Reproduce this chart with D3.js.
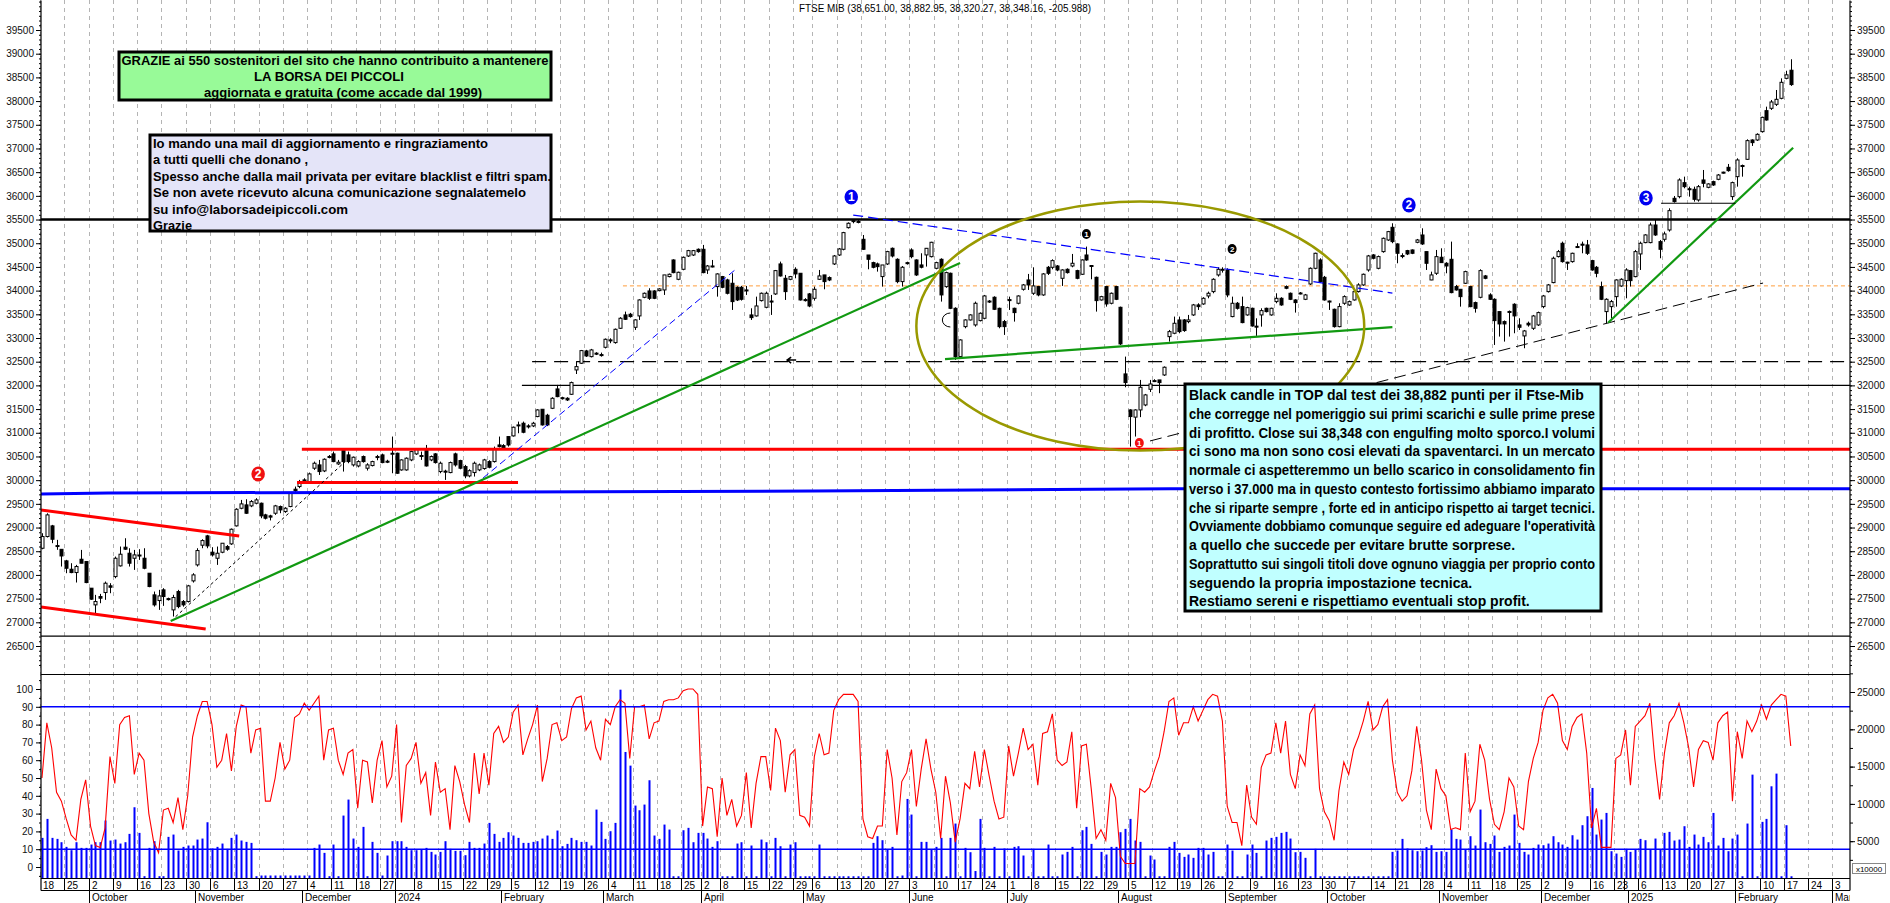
<!DOCTYPE html>
<html>
<head>
<meta charset="utf-8">
<script src="https://cdn.jsdelivr.net/npm/d3@7"></script>
<style>
  body { margin: 0; background: #fff; }
  svg { display: block; font-family: 'Liberation Sans', Arial, sans-serif; }
</style>
</head>
<body>
<div id="chart"></div>
<script>
// canvas and plot frame
var chartWidth = 1890;
var chartHeight = 903;
var leftX = 41;
var rightX = 1850;

// trading calendar (Borsa Italiana closing days inside the period)
var holidays = ['2023-12-25', '2023-12-26', '2024-01-01', '2024-03-29', '2024-04-01', '2024-05-01',
    '2024-12-24', '2024-12-25', '2024-12-26', '2024-12-31', '2025-01-01'];
var monthNames = ['January', 'February', 'March', 'April', 'May', 'June', 'July', 'August',
    'September', 'October', 'November', 'December'];

// daily FTSE MIB candles, 18 Sep 2023 -> 18 Feb 2025
var openP = [
28563,28810,29035,28610,28540,28296,28120,28050,28331,28282,
27720,27368,27544,27628,27770,27965,28191,28585,28458,28352,
28420,28352,28036,27579,27459,27685,27500,27262,27649,27438,
27438,27874,28212,28627,28824,28480,28352,28479,28598,28655,
29035,29407,29478,29457,29513,29513,29267,29246,29302,29443,
29337,29443,29809,29865,30005,29949,30252,30322,30195,30500,
30554,30343,30624,30533,30322,30300,30498,30252,30308,30480,
30533,30400,30568,30568,30216,30216,30427,30554,30520,30624,
30427,30554,30181,30190,30160,30554,30413,30287,30090,30160,
30217,30245,30392,30392,30743,30729,30920,30934,31150,31201,
31145,31145,31342,31496,31370,31517,31925,31740,31728,31812,
32326,32467,32727,32607,32680,32650,32804,32960,32903,33205,
33487,33501,33226,33466,33859,33993,33993,34000,34014,34296,
34647,34239,34450,34731,34752,34872,34872,34436,34520,34085,
34296,34225,34155,34070,34070,34014,33487,33466,33789,33648,
33780,33930,34563,34260,34239,34450,34366,33810,33930,33838,
34239,34331,34275,34563,34752,34872,35329,35470,35460,35083,
34752,34591,34563,34296,34563,34893,34661,34190,34590,34858,
34647,34542,34753,34717,34471,34661,34084,34366,33627,32608,
33240,33381,33276,33367,33416,33780,33860,33627,33346,33810,
33627,33733,34028,34225,33944,34085,33909,34492,34492,34520,
34260,34450,34520,34422,34345,34752,34530,34281,33803,34085,
33733,34085,33648,32242,31482,31330,31482,31587,31918,32101,
32115,32220,33029,33100,33381,33381,33346,33487,33698,33719,
33887,33979,34331,34440,34436,33452,33733,33662,33487,33627,
33250,33487,33627,33487,33768,33838,34085,33944,33803,33950,
33817,34140,34471,34647,34281,33780,33606,33240,33733,33697,
33803,33979,34120,34436,34753,34471,34823,35069,35336,34985,
34740,34844,34858,35020,35174,34823,34225,34366,34704,34577,
34661,34085,34028,34155,34085,33747,33859,34310,33909,33817,
33557,33346,33560,33712,33276,33044,33311,33205,33276,33663,
33979,34169,34718,34999,34600,34612,34930,34980,34964,34633,
34492,34085,33557,33662,33873,34098,34211,34422,34295,34774,
35013,35013,35385,35034,35083,35280,35948,35983,36278,36150,
36138,35913,36335,36180,36300,36349,36500,36602,35984,36405,
36640,36771,37179,37179,37355,37798,37847,37931,38058,38480,
38651];
var highP = [
28880,29300,29056,28740,28540,28318,28247,28212,28528,28282,
27720,27579,27600,27860,27825,28387,28599,28774,28563,28528,
28543,28563,28036,27649,27685,27720,27520,27580,27685,27470,
27790,28036,28563,28753,28845,28585,28599,28669,28630,28980,
29407,29583,29597,29580,29620,29527,29290,29270,29478,29464,
29430,29738,29865,30005,30040,30160,30392,30427,30460,30530,
30603,30427,30673,30603,30498,30420,30520,30357,30410,30533,
30560,30430,30920,30580,30440,30480,30620,30673,30603,30743,
30520,30570,30392,30220,30392,30580,30430,30322,30230,30392,
30350,30450,30420,30708,30920,30760,30920,31131,31236,31236,
31180,31230,31496,31496,31400,31750,32010,31760,31750,32080,
32502,32748,32750,32770,32700,32692,32990,32994,33200,33440,
33557,33530,33396,33817,33960,34050,34010,34050,34331,34360,
34661,34400,34720,34860,34858,34890,34964,34541,34647,34366,
34310,34250,34366,34090,34100,34099,33627,33873,33960,33979,
33909,34436,34612,34331,34310,34492,34366,33840,33950,34085,
34436,34331,34300,34752,34900,35240,35440,35505,35490,35174,
34752,34610,34591,34541,34840,34910,34682,34520,34610,34893,
34660,34788,34900,35030,34610,34682,34400,34380,33648,32973,
33395,33500,33768,33540,33909,33800,33880,33640,33381,33873,
33640,33900,34140,34352,34492,34100,34370,34520,34661,34540,
34450,34470,34774,34440,34660,34929,34540,34296,33890,34099,
33960,34100,33662,32607,31496,31496,32115,31820,32115,32130,
32115,32400,33170,33452,33452,33400,33487,33719,33733,33860,
33979,34260,34492,34492,34471,33873,33760,33873,33660,33640,
33416,33627,33640,33640,33944,33860,34110,33960,33820,33970,
33930,34490,34800,34682,34310,33790,33620,33733,33900,33790,
34000,34155,34360,34753,34770,34740,35120,35260,35421,34999,
34788,34860,34870,35090,35315,34823,34400,34858,34893,34600,
35034,34120,34028,34420,34100,33768,34450,34330,33944,33838,
33557,33370,33580,33733,33416,33170,33346,33487,33557,33909,
34140,34718,34858,35034,34610,34800,34999,35034,35069,34650,
34520,34190,33838,33803,34239,34260,34472,34436,34858,35034,
35190,35435,35491,35069,35245,35737,35997,36370,36405,36194,
36194,36229,36546,36265,36320,36460,36510,36673,36300,36792,
36660,37193,37193,37320,37671,37882,38023,38234,38480,38640,
38882.95];
var lowP = [
28542,28790,28670,28530,28177,28036,28036,27840,28247,27825,
27474,27192,27403,27474,27614,27930,28177,28528,28177,28106,
28317,28120,27740,27332,27262,27347,27460,27122,27297,27330,
27418,27839,28177,28563,28563,28388,28212,28458,28510,28634,
29021,29386,29288,29430,29490,29197,29170,29150,29267,29302,
29310,29429,29738,29830,29940,29920,30216,30110,30170,30460,
30378,30322,30181,30357,30287,30270,30370,30203,30290,30420,
30357,30360,30146,30132,30200,30200,30400,30533,30427,30287,
30400,30350,30146,30005,30146,30287,30230,30040,30060,30076,
30190,30220,30250,30371,30690,30640,30708,30920,30990,30990,
31090,31120,31328,31152,31140,31500,31750,31700,31670,31798,
32240,32453,32600,32590,32640,32607,32780,32890,32880,33190,
33381,33430,33170,33381,33840,33803,33820,33985,33909,34280,
34366,34220,34430,34710,34731,34800,34366,34352,34490,33873,
34050,33920,33592,33780,33790,33909,33381,33452,33770,33627,
33487,33909,34296,33803,34220,34260,33790,33770,33650,33789,
34225,34028,34200,34541,34731,34850,35310,35421,35420,34858,
34450,34470,34401,34085,34540,34700,34155,34085,34550,34682,
34310,34470,34507,34700,34450,33768,34060,33610,32537,32600,
33205,33370,33240,33350,33395,33740,33590,33205,33065,33592,
33346,33710,34000,34014,33909,33880,33890,34330,34450,34410,
34099,34360,34493,34240,34330,34630,34239,33557,33790,33662,
33710,33800,32853,31960,30708,30920,31330,31560,31860,32070,
31835,32200,32924,33080,33100,33130,33311,33466,33592,33700,
33838,33944,34296,34380,33860,33437,33600,33311,33470,33240,
33044,33240,33540,33470,33733,33680,34030,33800,33536,33920,
33800,34120,34450,34170,33789,33592,33220,33226,33700,33680,
33790,33960,34100,34400,34660,34450,34800,35050,35000,34577,
34683,34750,34770,35000,34964,34436,34220,34331,34590,34366,
33944,34000,33662,34140,33650,33536,33838,34240,33803,32853,
33030,32924,33030,33100,33170,32784,33240,33170,33254,33627,
33960,34155,34700,34591,34436,34590,34900,34788,34753,34420,
34282,33800,33311,33416,33662,34080,33838,34085,34282,34436,
35000,34999,35155,34683,35034,35245,35857,35948,36159,35983,
35878,35878,36180,36160,36210,36330,36470,36510,35913,36194,
36405,36757,37053,37160,37334,37587,37812,37896,38037,38460,
38320.27];
var closeP = [
28810,29267,28753,28620,28400,28141,28050,28177,28247,27839,
27488,27438,27509,27825,27740,28352,28437,28543,28247,28423,
28400,28141,27755,27368,27557,27544,27480,27523,27332,27368,
27769,28001,28514,28725,28613,28423,28458,28669,28543,28964,
29386,29499,29302,29548,29583,29246,29197,29220,29457,29372,
29407,29724,29780,29970,29970,30132,30357,30181,30441,30484,
30392,30378,30392,30392,30484,30392,30392,30322,30392,30498,
30371,30392,30568,30146,30427,30463,30603,30652,30512,30300,
30498,30371,30357,30181,30371,30322,30252,30090,30200,30357,
30322,30427,30273,30652,30708,30673,30743,31117,31166,31011,
31131,31201,31482,31166,31166,31728,31763,31728,31693,32059,
32396,32734,32621,32748,32664,32643,32973,32959,33184,33417,
33395,33452,33382,33803,33944,33838,33838,34035,34331,34345,
34380,34387,34703,34844,34844,34823,34380,34520,34510,34352,
34070,33944,33768,33803,33817,34000,33430,33676,33944,33944,
33768,34422,34310,33979,34296,34352,33803,33803,33676,34028,
34310,34190,34225,34731,34879,35224,35421,35477,35456,34872,
34661,34492,34506,34541,34823,34731,34190,34493,34577,34717,
34331,34493,34893,35020,34591,33909,34380,33627,32608,32959,
33381,33487,33733,33522,33888,33768,33606,33240,33240,33803,
33536,33887,34120,34120,34099,33909,34352,34366,34633,34436,
34436,34380,34577,34260,34647,34647,34520,33789,33873,33719,
33944,33817,32875,32059,31342,31482,31960,31799,32030,32101,
32059,32383,33135,33311,33135,33157,33381,33698,33662,33838,
33944,34239,34450,34450,33909,33733,33627,33325,33641,33254,
33240,33578,33557,33627,33838,33698,34050,33817,33747,33944,
33909,34471,34788,34190,33803,33768,33240,33663,33873,33768,
33979,34120,34345,34732,34683,34718,35104,35245,35034,34788,
34732,34774,34788,35069,34985,34577,34331,34717,34591,34520,
33958,34014,33873,34401,33662,33627,34422,34260,33817,33367,
33297,33297,33557,33466,33226,33149,33276,33465,33536,33887,
34120,34683,34823,34612,34591,34788,34915,34964,34788,34436,
34366,33817,33817,33768,34225,34239,34436,34211,34823,34999,
35175,35385,35175,34872,35196,35688,35878,36335,36194,36138,
35927,36194,36265,36251,36230,36440,36490,36532,36279,36757,
36630,37165,37123,37298,37657,37601,37981,38037,38396,38554,
38348.16];

// oscillator (left scale 0-100) and volume (right scale)
var stoch = [
50,81,67,42,37,27,18,15,38,49, 23,12,11,22,62,47,80,84,85,52,
64,60,30,14,8,32,33,25,39,21, 40,73,85,93,93,80,56,60,75,54,
79,91,90,64,77,78,37,37,50,70, 55,60,84,86,92,88,92,96,60,77,
78,60,52,64,66,33,60,59,36,60, 71,45,51,80,25,57,61,70,47,53,
29,59,42,44,21,57,48,35,25,64, 41,64,46,75,79,70,73,87,91,63,
72,80,91,48,61,80,81,71,73,89, 95,96,77,82,67,60,83,80,90,94,
92,61,90,90,91,72,81,82,93,94, 94,95,99,100,100,97,23,45,44,17,
50,29,38,23,29,53,22,47,62,62, 43,78,71,42,63,66,29,28,23,62,
75,63,64,88,94,97,97,97,93,27, 17,16,23,23,66,50,18,48,53,66,
34,55,72,55,42,16,51,36,14,27, 47,44,65,45,66,51,37,27,28,68,
51,64,78,66,69,46,75,76,86,60, 57,59,76,33,68,69,44,16,21,15,
47,39,6,2,2,2,44,42,45,54, 62,76,93,95,74,81,81,90,82,88,
94,97,96,82,34,25,25,12,46,28, 24,56,63,64,81,64,82,52,44,63,
57,86,91,44,31,26,15,43,59,52, 66,73,82,93,77,80,90,94,60,42,
37,40,54,79,60,32,21,55,44,40, 21,22,21,64,31,37,69,60,38,24,
21,31,50,45,23,21,48,61,70,88, 95,97,92,71,66,79,84,86,64,22,
33,11,11,11,61,63,77,46,79,82, 85,92,61,38,64,81,85,92,81,67,
45,66,71,70,60,81,85,87,37,76, 61,82,76,82,91,83,91,94,97,96,
68];
var volume = [
5445,7990,5445,5310,4865,4240,3795,4865,4105,4105,
4550,4865,4865,7770,5090,5220,4685,4865,5980,9550,
6115,310,4105,5000,310,310,5580,5890,3750,4240,
4420,4420,5220,5355,7540,4020,4240,4685,3975,5445,
5890,5090,4910,4775,310,400,400,400,400,400,
400,400,400,400,400,400,4105,4550,3435,310,
4550,310,8435,10580,5355,4240,6920,310,4910,3435,
400,3080,5000,5000,5000,4240,3795,3795,3885,4105,
3570,3215,3570,5000,3975,3705,3705,3125,4910,4105,
4105,4685,7455,5980,4910,5445,6205,5760,5445,4775,
4775,4910,5000,5355,5760,5310,6430,4330,4640,5445,
5135,4910,4910,4420,9240,7585,5310,6340,7455,25310,
16960,15130,9775,9150,9910,13170,5760,5310,7230,6560,
300,300,6470,6790,4865,6115,6115,5355,4240,5000,
300,300,300,4685,4865,300,4420,300,5220,4865,
300,5445,4330,300,4550,4865,300,300,300,300,
4550,300,300,300,300,300,300,300,300,300,
300,4775,5670,5135,3885,4240,300,400,10665,8570,
300,4910,4910,3885,4240,5445,300,5445,7365,300,
4105,3525,1000,7990,4105,300,4240,300,4020,300,
4240,4330,3080,300,3975,300,300,4550,300,300,
3215,3570,4240,300,6470,6920,4640,300,3570,3215,
4240,4240,6205,6650,7990,5090,4910,300,3080,2545,
300,300,4240,4910,3435,2900,3215,2770,4105,4105,
3215,3570,300,300,4550,3750,300,300,3215,4550,
3435,300,5090,5445,5580,6115,6250,5355,3525,3570,
2770,300,3975,300,300,300,300,300,300,300,
300,300,300,300,300,300,300,300,3570,3750,
5310,4020,3795,3660,3750,4200,4465,3570,3660,3570,
6560,5310,5220,3885,5670,4420,9240,4865,4640,5760,
3570,4240,4420,8570,4775,3570,3215,4105,4550,4465,
4685,5670,4865,4550,4240,5800,5220,7145,8350,12140,
5890,7900,8790,3660,3345,2900,3975,3570,3885,5310,
5135,3885,5355,3885,6115,6250,5090,5220,7010,4240,
5890,4550,5580,4865,8790,4420,5445,3660,5355,5890,
300,7365,13925,300,7590,7990,12360,14060,300,7145,
300];

// axis tick values
var priceTicks = d3.range(26500, 39501, 500);
var priceMinorTicks = d3.range(26100, 40101, 100);
var stochTicks = d3.range(0, 101, 10);
var stochMinorTicks = d3.range(-5, 106, 5);
var volumeTicks = [5000, 10000, 15000, 20000, 25000];
var volumeMinorTicks = d3.range(2500, 27501, 2500);
var stochLevels = [90, 10];

// hand drawn annotations: [day index, price]
var channelUpper = [[-0.2, 29369], [40.6, 28820]];
var channelLower = [[-0.2, 27322], [33.7, 26857]];
var longSupport = [[26.5, 27026], [189, 34582]];
var dottedSupport = [[27.5, 27117], [62.4, 30389]];
var blueRise = [[90.8, 30045], [142.9, 34456]];
var blueFall = [[167, 35595], [278, 33949]];
var greenBase = [[185.9, 32556], [278, 33231]];
var dashedRise = [[228.1, 30827], [354.3, 34160]];
var steepSupport = [[322.4, 33322], [360.5, 37016]];
var shortTop = [[333.3, 35844], [348.6, 35844]];
var topLevel = [[-0.2, 35500], [372.2, 35500]];
var thinLevels = [[[98.8, 32000], [372.2, 32000]], [[-0.2, 26710], [372.2, 26710]]];
var dashedLevel = [[100.9, 32500], [372.2, 32500]];
var orangeLevel = [[119.6, 34100], [372.2, 34100]];
var redLevels = [[[53.5, 30650], [372.2, 30650]], [[52.5, 29950], [98, 29950]]];
var blueSteps = [[-0.2, 29707], [13.6, 29728], [158.7, 29770], [232.3, 29819], [372.2, 29819]];
var ellipseCenter = [226.1, 33253];
var ellipseRadius = [46.1, 2628];
var halfCircle = [187, 33380];
var arrowPoint = [153.4, 32535];
var markers = [
    { i: 166.6, p: 35975, label: '1', kind: 'blue' },
    { i: 281.4, p: 35806, label: '2', kind: 'blue' },
    { i: 330.2, p: 35954, label: '3', kind: 'blue' },
    { i: 44.5, p: 30129, label: '2', kind: 'red' },
    { i: 215, p: 35194, label: '1', kind: 'small' },
    { i: 245, p: 34878, label: '2', kind: 'small' },
    { i: 225.9, p: 30783, label: '1', kind: 'smallred' }
];

// texts
var titleText = 'FTSE MIB (38,651.00, 38,882.95, 38,320.27, 38,348.16, -205.988)';
var thanksLines = ['GRAZIE ai 550 sostenitori del sito che hanno contribuito a mantenere',
    'LA BORSA DEI PICCOLI', 'aggiornata e gratuita (come accade dal 1999)'];
var mailLines = ['Io mando una mail di aggiornamento e ringraziamento', 'a tutti quelli che donano ,',
    'Spesso anche dalla mail privata per evitare blacklist e filtri spam.',
    'Se non avete ricevuto alcuna comunicazione segnalatemelo',
    'su info@laborsadeipiccoli.com', 'Grazie'];
var commentLines = ['Black candle in TOP dal test dei 38,882 punti per il Ftse-Mib',
    'che corregge nel pomeriggio sui primi scarichi e sulle prime prese',
    'di profitto. Close sui 38,348 con engulfing molto sporco.I volumi',
    'ci sono ma non sono cosi elevati da spaventarci. In un mercato',
    'normale ci aspetteremmo un bello scarico in consolidamento fin',
    'verso i 37.000 ma in questo contesto fortissimo abbiamo imparato',
    'che si riparte sempre , forte ed in anticipo rispetto ai target tecnici.',
    "Ovviamente dobbiamo comunque seguire ed adeguare l'operatività",
    'a quello che succede per evitare brutte sorprese.',
    'Soprattutto sui singoli titoli dove ognuno viaggia per proprio conto',
    'seguendo la propria impostazione tecnica.',
    'Restiamo sereni e rispettiamo eventuali stop profit.'];

var xScale = d3.scaleLinear().domain([-0.2, 372.2]).range([leftX, rightX]);
var yPrice = d3.scaleLinear().domain([26500, 39500]).range([646, 30]);
var yStoch = d3.scaleLinear().domain([0, 100]).range([867, 689]);
var yVol = d3.scaleLinear().domain([0, 25000]).range([878.5, 692]);
var tradingDays = buildTradingDays(373);

document.addEventListener('DOMContentLoaded', function () {
    var svg = d3.select('#chart')
        .append('svg')
        .attr('width', chartWidth)
        .attr('height', chartHeight);

    svg.append('rect').attr('width', chartWidth).attr('height', chartHeight).attr('fill', '#fff');
    svg.append('clipPath').attr('id', 'priceClip')
        .append('rect').attr('x', leftX).attr('y', 0).attr('width', rightX - leftX).attr('height', 674);
    svg.append('clipPath').attr('id', 'axisClip')
        .append('rect').attr('x', leftX).attr('y', 870).attr('width', rightX - leftX).attr('height', 40);

    drawGrid(svg);
    var price = svg.append('g').attr('clip-path', 'url(#priceClip)');
    drawLevels(price);
    drawCandles(price);
    drawTrendLines(price);
    drawMarkers(price);
    drawBoxes(svg);
    drawLowerPanel(svg);
    drawAxes(svg);
    drawDateAxis(svg);

    svg.append('text')
        .attr('x', 799)
        .attr('y', 12)
        .attr('font-size', '10px')
        .attr('textLength', 292)
        .attr('lengthAdjust', 'spacingAndGlyphs')
        .text(titleText);
});

function buildTradingDays(count) {
    var fmt = d3.timeFormat('%Y-%m-%d');
    var days = [];
    var d = new Date(2023, 8, 18);
    while (days.length < count) {
        var wd = d.getDay();
        if (wd !== 0 && wd !== 6 && holidays.indexOf(fmt(d)) < 0) {
            days.push(new Date(d));
        }
        d.setDate(d.getDate() + 1);
    }
    return days;
}

function isWeekStart(i) {
    if (i === 0) return true;
    var a = tradingDays[i - 1], b = tradingDays[i];
    return b.getDay() <= a.getDay() || (b - a) > 4 * 86400000;
}

function px(i) {
    return Math.round(xScale(i));
}

function drawGrid(svg) {
    var weeks = d3.range(tradingDays.length).filter(isWeekStart);
    svg.append('g').selectAll('line')
        .data(weeks)
        .enter()
        .append('line')
        .attr('x1', function (i) { return px(i) - 1.5; })
        .attr('x2', function (i) { return px(i) - 1.5; })
        .attr('y1', 0)
        .attr('y2', 878)
        .attr('stroke', '#b4b4b4')
        .attr('stroke-dasharray', '4,4');
}

function segment(g, pts, color, width, dash) {
    var line = d3.line()
        .x(function (d) { return xScale(d[0]); })
        .y(function (d) { return yPrice(d[1]); });
    g.append('path')
        .attr('d', line(pts))
        .attr('fill', 'none')
        .attr('stroke', color)
        .attr('stroke-width', width)
        .attr('stroke-dasharray', dash || null);
}

function drawLevels(g) {
    segment(g, orangeLevel, '#ff9d3c', 1, '4,3');
    thinLevels.forEach(function (pts) { segment(g, pts, '#000', 1.2); });
    segment(g, dashedLevel, '#000', 1.2, '14,8');
}

function drawCandles(g) {
    var idx = d3.range(closeP.length);
    g.append('g').selectAll('line')
        .data(idx)
        .enter()
        .append('line')
        .attr('x1', function (i) { return px(i) + 0.5; })
        .attr('x2', function (i) { return px(i) + 0.5; })
        .attr('y1', function (i) { return yPrice(highP[i]); })
        .attr('y2', function (i) { return yPrice(lowP[i]); })
        .attr('stroke', '#000')
        .attr('stroke-width', 1);

    g.append('g').selectAll('rect')
        .data(idx)
        .enter()
        .append('rect')
        .attr('x', function (i) { return px(i) - 1; })
        .attr('width', 3)
        .attr('y', function (i) { return yPrice(Math.max(openP[i], closeP[i])); })
        .attr('height', function (i) {
            return Math.max(1, Math.abs(yPrice(openP[i]) - yPrice(closeP[i])));
        })
        .attr('fill', function (i) { return closeP[i] >= openP[i] ? '#fff' : '#000'; })
        .attr('stroke', '#000')
        .attr('stroke-width', 1);
}

function drawTrendLines(g) {
    redLevels.forEach(function (pts) { segment(g, pts, '#ff0000', 3); });
    segment(g, blueSteps, '#0000ff', 3);
    segment(g, topLevel, '#000', 2.5);
    segment(g, channelUpper, '#ff0000', 3);
    segment(g, channelLower, '#ff0000', 3);
    segment(g, dottedSupport, '#000', 1, '3,3');
    segment(g, blueRise, '#0000ff', 1, '7,4');
    segment(g, blueFall, '#0000ff', 1.2, '10,5');
    segment(g, longSupport, '#119911', 2.2);
    segment(g, greenBase, '#119911', 2.2);
    segment(g, dashedRise, '#000', 1, '12,6');
    segment(g, steepSupport, '#119911', 2.2);
    segment(g, shortTop, '#000', 1.2);

    // olive ellipse
    var cx = xScale(ellipseCenter[0]);
    var cy = yPrice(ellipseCenter[1]);
    g.append('ellipse')
        .attr('cx', cx)
        .attr('cy', cy)
        .attr('rx', xScale(ellipseCenter[0] + ellipseRadius[0]) - cx)
        .attr('ry', cy - yPrice(ellipseCenter[1] + ellipseRadius[1]))
        .attr('fill', 'none')
        .attr('stroke', '#999900')
        .attr('stroke-width', 2.5);

    // small half circle and arrow
    var hx = xScale(halfCircle[0]), hy = yPrice(halfCircle[1]);
    g.append('path')
        .attr('d', 'M' + hx + ',' + (hy - 7) + ' A8,7 0 0,0 ' + hx + ',' + (hy + 7))
        .attr('fill', 'none')
        .attr('stroke', '#000');
    var ax = xScale(arrowPoint[0]), ay = yPrice(arrowPoint[1]);
    g.append('path')
        .attr('d', 'M' + (ax + 9) + ',' + ay + ' L' + ax + ',' + ay + ' M' + (ax + 4) + ',' + (ay - 3) +
            ' L' + ax + ',' + ay + ' L' + (ax + 4) + ',' + (ay + 3))
        .attr('fill', 'none')
        .attr('stroke', '#000')
        .attr('stroke-width', 1.5);
}

function drawMarkers(g) {
    var style = {
        blue: { r: 7.5, fill: '#0000f0', size: 12 },
        red: { r: 7.5, fill: '#f01010', size: 12 },
        small: { r: 5, fill: '#000', size: 8 },
        smallred: { r: 5, fill: '#f01010', size: 8 }
    };
    var m = g.append('g').selectAll('g')
        .data(markers)
        .enter()
        .append('g')
        .attr('transform', function (d) {
            return 'translate(' + xScale(d.i) + ',' + yPrice(d.p) + ')';
        });
    m.append('ellipse')
        .attr('rx', function (d) { return style[d.kind].r * 0.9; })
        .attr('ry', function (d) { return style[d.kind].r; })
        .attr('fill', function (d) { return style[d.kind].fill; });
    m.append('text')
        .attr('text-anchor', 'middle')
        .attr('dy', '0.36em')
        .attr('fill', '#fff')
        .attr('font-weight', 'bold')
        .attr('font-size', function (d) { return style[d.kind].size + 'px'; })
        .text(function (d) { return d.label; });
}

function drawBoxes(svg) {
    // green thanks box
    svg.append('rect')
        .attr('x', 119).attr('y', 52).attr('width', 432).attr('height', 48)
        .attr('fill', '#98fa98').attr('stroke', '#000').attr('stroke-width', 3);
    var widths = [427, 150, 278];
    var centers = [335, 329, 343];
    thanksLines.forEach(function (t, k) {
        svg.append('text')
            .attr('x', centers[k])
            .attr('y', 65 + k * 16)
            .attr('text-anchor', 'middle')
            .attr('font-size', '13px')
            .attr('font-weight', 'bold')
            .attr('textLength', widths[k])
            .attr('lengthAdjust', 'spacingAndGlyphs')
            .text(t);
    });

    // lavender mail box
    svg.append('rect')
        .attr('x', 150).attr('y', 135).attr('width', 401).attr('height', 96)
        .attr('fill', '#e4e4f8').attr('stroke', '#000').attr('stroke-width', 3);
    var mailWidths = [335, 155, 398, 373, 195, 39];
    mailLines.forEach(function (t, k) {
        svg.append('text')
            .attr('x', 153)
            .attr('y', 148 + k * 16.4)
            .attr('font-size', '13px')
            .attr('font-weight', 'bold')
            .attr('textLength', mailWidths[k])
            .attr('lengthAdjust', 'spacingAndGlyphs')
            .text(t);
    });

    // cyan comment box, wide lines squeezed to the box width
    svg.append('rect')
        .attr('x', 1185).attr('y', 384).attr('width', 416).attr('height', 227)
        .attr('fill', '#c0ffff').attr('stroke', '#000').attr('stroke-width', 3);
    var maxWidth = 406;
    commentLines.forEach(function (t, k) {
        var txt = svg.append('text')
            .attr('x', 1189)
            .attr('y', 400 + k * 18.75)
            .attr('font-size', '14px')
            .attr('font-weight', 'bold')
            .text(t);
        var w = txt.node().getComputedTextLength();
        if (w > maxWidth) {
            txt.attr('textLength', maxWidth).attr('lengthAdjust', 'spacingAndGlyphs');
        }
    });
}

function drawLowerPanel(svg) {
    var idx = d3.range(volume.length);
    svg.append('g').selectAll('rect')
        .data(idx)
        .enter()
        .append('rect')
        .attr('x', function (i) { return px(i) - 0.5; })
        .attr('width', 2)
        .attr('y', function (i) { return yVol(volume[i]); })
        .attr('height', function (i) { return yVol(0) - yVol(volume[i]); })
        .attr('fill', '#0000ff');

    var line = d3.line()
        .x(function (d, i) { return xScale(i); })
        .y(function (d) { return yStoch(d); });
    svg.append('path')
        .attr('d', line(stoch))
        .attr('fill', 'none')
        .attr('stroke', '#ff0000')
        .attr('stroke-width', 1.1);

    svg.append('g').selectAll('line')
        .data(stochLevels)
        .enter()
        .append('line')
        .attr('x1', leftX)
        .attr('x2', rightX)
        .attr('y1', function (d) { return yStoch(d); })
        .attr('y2', function (d) { return yStoch(d); })
        .attr('stroke', '#0000ff')
        .attr('stroke-width', 1.5);
}

function styleAxis(g) {
    g.select('.domain').remove();
    g.attr('font-size', 10)
        .attr('font-family', "'Liberation Sans', Arial, sans-serif");
    g.selectAll('text').attr('fill', '#111');
}

function drawAxes(svg) {
    // price panel, left and right
    var pMinorL = svg.append('g').attr('transform', 'translate(' + leftX + ',0)')
        .call(d3.axisLeft(yPrice).tickValues(priceMinorTicks).tickSize(2).tickFormat(''));
    styleAxis(pMinorL);
    var pMinorR = svg.append('g').attr('transform', 'translate(' + rightX + ',0)')
        .call(d3.axisRight(yPrice).tickValues(priceMinorTicks).tickSize(2).tickFormat(''));
    styleAxis(pMinorR);
    var pL = svg.append('g').attr('transform', 'translate(' + leftX + ',0)')
        .call(d3.axisLeft(yPrice).tickValues(priceTicks).tickSize(5).tickPadding(2).tickFormat(d3.format('d')));
    styleAxis(pL);
    var pR = svg.append('g').attr('transform', 'translate(' + rightX + ',0)')
        .call(d3.axisRight(yPrice).tickValues(priceTicks).tickSize(5).tickPadding(2).tickFormat(d3.format('d')));
    styleAxis(pR);

    // lower panel
    var sMinor = svg.append('g').attr('transform', 'translate(' + leftX + ',0)')
        .call(d3.axisLeft(yStoch).tickValues(stochMinorTicks).tickSize(2).tickFormat(''));
    styleAxis(sMinor);
    var sL = svg.append('g').attr('transform', 'translate(' + leftX + ',0)')
        .call(d3.axisLeft(yStoch).tickValues(stochTicks).tickSize(5).tickPadding(3).tickFormat(d3.format('d')));
    styleAxis(sL);
    var vMinor = svg.append('g').attr('transform', 'translate(' + rightX + ',0)')
        .call(d3.axisRight(yVol).tickValues(volumeMinorTicks).tickSize(3).tickFormat(''));
    styleAxis(vMinor);
    var vR = svg.append('g').attr('transform', 'translate(' + rightX + ',0)')
        .call(d3.axisRight(yVol).tickValues(volumeTicks).tickSize(5).tickPadding(2).tickFormat(d3.format('d')));
    styleAxis(vR);

    svg.append('rect')
        .attr('x', 1852.5).attr('y', 863.5).attr('width', 33).attr('height', 10)
        .attr('fill', '#fff').attr('stroke', '#888').attr('stroke-width', 1);
    svg.append('text')
        .attr('x', 1869).attr('y', 871.5)
        .attr('text-anchor', 'middle')
        .attr('font-size', '8px')
        .text('x10000');

    // frame lines
    var frame = [[leftX, 0, leftX, 890], [rightX, 0, rightX, 890], [leftX, 674, rightX, 674],
        [leftX, 878, rightX, 878], [leftX, 890, rightX, 890]];
    svg.append('g').selectAll('line')
        .data(frame)
        .enter()
        .append('line')
        .attr('x1', function (d) { return d[0]; })
        .attr('y1', function (d) { return d[1] + 0.5; })
        .attr('x2', function (d) { return d[2]; })
        .attr('y2', function (d) { return d[3] + 0.5; })
        .attr('stroke', '#000')
        .attr('stroke-width', 1.2);
}

function drawDateAxis(svg) {
    var g = svg.append('g').attr('clip-path', 'url(#axisClip)');
    var weeks = d3.range(tradingDays.length).filter(isWeekStart);
    var months = d3.range(1, tradingDays.length).filter(function (i) {
        return tradingDays[i].getMonth() !== tradingDays[i - 1].getMonth();
    });

    g.selectAll('.wtick')
        .data(weeks)
        .enter()
        .append('line')
        .attr('x1', function (i) { return px(i) - 1.5; })
        .attr('x2', function (i) { return px(i) - 1.5; })
        .attr('y1', 878)
        .attr('y2', 890)
        .attr('stroke', '#000');

    var lastEnd = -100;
    weeks.forEach(function (i) {
        var label = String(tradingDays[i].getDate());
        var x0 = px(i) + 1;
        if (x0 < lastEnd + 4) return;
        g.append('text')
            .attr('x', x0)
            .attr('y', 888.5)
            .attr('font-size', '10px')
            .text(label);
        lastEnd = x0 + label.length * 5.6;
    });

    g.selectAll('.mtick')
        .data(months)
        .enter()
        .append('line')
        .attr('x1', function (i) { return px(i) - 1.5; })
        .attr('x2', function (i) { return px(i) - 1.5; })
        .attr('y1', 890)
        .attr('y2', 903)
        .attr('stroke', '#000');

    g.selectAll('.mlabel')
        .data(months)
        .enter()
        .append('text')
        .attr('x', function (i) { return px(i) + 1; })
        .attr('y', 901)
        .attr('font-size', '10px')
        .text(function (i) {
            var d = tradingDays[i];
            return d.getMonth() === 0 ? String(d.getFullYear()) : monthNames[d.getMonth()];
        });
}
</script>
</body>
</html>
